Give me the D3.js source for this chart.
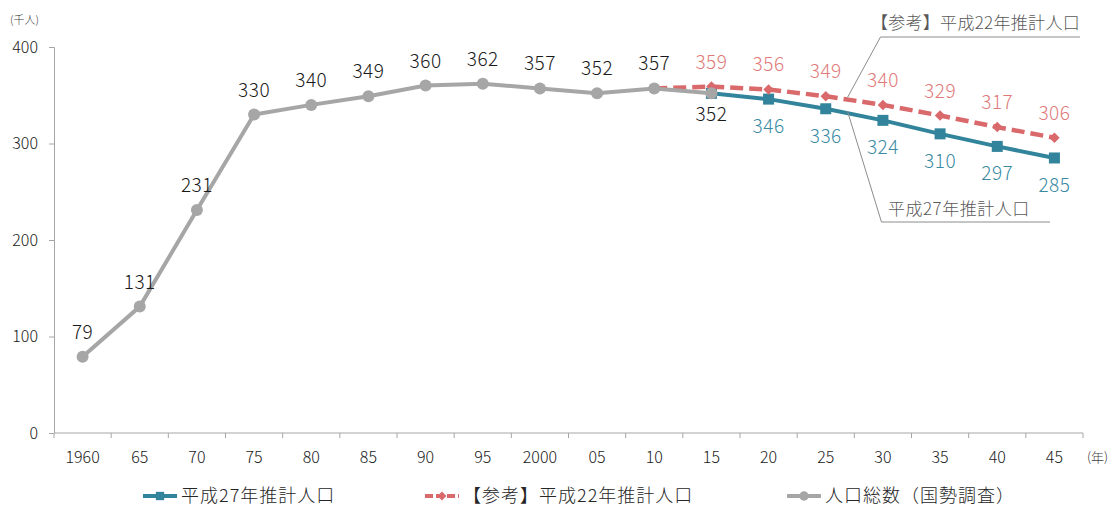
<!DOCTYPE html>
<html>
<head>
<meta charset="utf-8">
<script src="https://cdn.jsdelivr.net/npm/d3@7"></script>
<style>
  body { margin: 0; background: #fff; }
  svg text { font-family: "Noto Sans CJK JP", "Noto Sans", sans-serif; font-weight: 300; }
</style>
</head>
<body>
<div id="chart--wrap"></div>
<script>
// categories (x axis) and series values
const years = ['1960', '65', '70', '75', '80', '85', '90', '95', '2000', '05', '10', '15', '20', '25', '30', '35', '40', '45'];
const censusVals = [79, 131, 231, 330, 340, 349, 360, 362, 357, 352, 357, 352]; // 1960 - 2015
const h27Vals = [352, 346, 336, 324, 310, 297, 285];                              // 2015 - 2045
const h22Vals = [357, 359, 356, 349, 340, 329, 317, 306];                         // 2010 - 2045
const yTicks = [0, 100, 200, 300, 400];

const censusName = '人口総数（国勢調査）';
const h27Name = '平成27年推計人口';
const h22Name = '【参考】平成22年推計人口';

const colors = { census: '#a6a6a6', h27: '#31849b', h22: '#d9696b' };
const labelColors = { census: '#1a1a1a', h27: '#3a8ba3', h22: '#e07a7a' };

const W = 1112, H = 507;
const margin = { top: 47, right: 29, bottom: 74, left: 54 };
const width = W - margin.left - margin.right;
const height = H - margin.top - margin.bottom;

const svg = d3.select('#chart--wrap').append('svg')
  .attr('width', W)
  .attr('height', H);

const group = svg.append('g')
  .attr('transform', `translate(${margin.left}, ${margin.top})`);

// scales
const x = d3.scaleBand().domain(years).range([0, width]);
const y = d3.scaleLinear().domain([0, 400]).range([height, 0]);
const cx = i => x(years[i]) + x.bandwidth() / 2;

// series rows -> points
const toPoints = (vals, start) => vals.map((v, i) => ({ i: start + i, v: v }));
const census = toPoints(censusVals, 0);
const h22 = toPoints(h22Vals, years.indexOf('10'));
const h27 = toPoints(h27Vals, years.indexOf('15'));

// y axis
const yAxis = group.append('g')
  .call(d3.axisLeft(y).tickValues(yTicks).tickSize(5).tickPadding(11));
yAxis.select('.domain').attr('stroke', '#a6a6a6').attr('d', `M-5,0.5H0.5V${height}`);
yAxis.selectAll('.tick line').attr('stroke', '#a6a6a6');
yAxis.selectAll('.tick text')
  .attr('font-size', 16).attr('fill', '#1a1a1a')
  .style('font-family', '"Noto Sans CJK JP", sans-serif');

// x axis (ticks between categories)
const xAxis = group.append('g')
  .attr('transform', `translate(0, ${height})`);
xAxis.append('line')
  .attr('x1', 0).attr('x2', width)
  .attr('stroke', '#a6a6a6');
xAxis.selectAll('.tk')
  .data(d3.range(years.length + 1))
  .enter().append('line')
  .attr('x1', i => i * x.step()).attr('x2', i => i * x.step())
  .attr('y1', 0).attr('y2', 5)
  .attr('stroke', '#a6a6a6');
xAxis.selectAll('.lbl')
  .data(years)
  .enter().append('text')
  .attr('x', d => x(d) + x.bandwidth() / 2)
  .attr('y', 30)
  .attr('text-anchor', 'middle')
  .attr('font-size', 16)
  .attr('fill', '#1a1a1a')
  .text(d => d);

// units
svg.append('text')
  .attr('x', 10).attr('y', 24)
  .attr('font-size', 11).attr('fill', '#404040')
  .text('(千人)');
svg.append('text')
  .attr('x', 1087).attr('y', 462)
  .attr('font-size', 13).attr('fill', '#404040')
  .text('(年)');

const line = d3.line()
  .x(d => cx(d.i))
  .y(d => y(d.v));

// 平成27年推計人口
group.append('path')
  .attr('d', line(h27))
  .attr('fill', 'none')
  .attr('stroke', colors.h27)
  .attr('stroke-width', 4);
group.selectAll('.sq')
  .data(h27)
  .enter().append('rect')
  .attr('x', d => cx(d.i) - 5.5).attr('y', d => y(d.v) - 5.5)
  .attr('width', 11).attr('height', 11)
  .attr('fill', colors.h27);

// 平成22年推計人口
group.append('path')
  .attr('d', line(h22))
  .attr('fill', 'none')
  .attr('stroke', colors.h22)
  .attr('stroke-width', 4.5)
  .attr('stroke-dasharray', '13,6');
group.selectAll('.dm')
  .data(h22.slice(1))
  .enter().append('path')
  .attr('d', d3.symbol().type(d3.symbolDiamond2).size(70))
  .attr('transform', d => `translate(${cx(d.i)}, ${y(d.v)})`)
  .attr('fill', colors.h22);

// 人口総数
group.append('path')
  .attr('d', line(census))
  .attr('fill', 'none')
  .attr('stroke', colors.census)
  .attr('stroke-width', 4);
group.selectAll('.ci')
  .data(census)
  .enter().append('circle')
  .attr('cx', d => cx(d.i)).attr('cy', d => y(d.v))
  .attr('r', 6)
  .attr('fill', colors.census);

// data labels
const labels = (data, color, dy) => {
  group.selectAll(null)
    .data(data)
    .enter().append('text')
    .attr('x', d => cx(d.i))
    .attr('y', d => y(d.v) + dy)
    .attr('text-anchor', 'middle')
    .attr('font-size', 19)
    .attr('letter-spacing', 0.5)
    .attr('fill', color)
    .text(d => d.v);
};
labels(census.slice(0, -1), labelColors.census, -18);
labels(census.slice(-1), labelColors.census, 28);
labels(h22.slice(1), labelColors.h22, -18);
labels(h27.slice(1), labelColors.h27, 34);

// callouts
const at = (pts, i0, f) => {
  const a = pts.find(d => d.i === i0), b = pts.find(d => d.i === i0 + 1);
  return [cx(i0) + f * x.step(), y(a.v + f * (b.v - a.v))];
};
const i25 = years.indexOf('25');
const p22 = at(h22, i25, 0.38);
const p27 = at(h27, i25, 0.38);
group.append('path')
  .attr('d', `M${p22[0]},${p22[1] - 2}L${p22[0] + 33},${37 - margin.top}H${1080 - margin.left}`)
  .attr('fill', 'none').attr('stroke', '#8c8c8c');
group.append('path')
  .attr('d', `M${p27[0]},${p27[1] - 2}L${p27[0] + 34},${222 - margin.top}H${1050 - margin.left}`)
  .attr('fill', 'none').attr('stroke', '#8c8c8c');
svg.append('text')
  .attr('x', 1080).attr('y', 29)
  .attr('text-anchor', 'end')
  .attr('font-size', 17).attr('letter-spacing', 0.3).attr('fill', '#595959')
  .text(h22Name);
svg.append('text')
  .attr('x', 888).attr('y', 215)
  .attr('font-size', 17).attr('letter-spacing', 0.5).attr('fill', '#595959')
  .text(h27Name);

// legend
const legendItems = [
  { name: h27Name, color: colors.h27, x: 143, mark: 'square', dash: null },
  { name: h22Name, color: colors.h22, x: 425, mark: 'diamond', dash: '8,3' },
  { name: censusName, color: colors.census, x: 787, mark: 'circle', dash: null }
];
const legend = svg.append('g').attr('transform', 'translate(0, 496)');
const key = legend.selectAll('g')
  .data(legendItems)
  .enter().append('g')
  .attr('transform', d => `translate(${d.x}, 0)`);
key.append('line')
  .attr('x1', 0).attr('x2', 34)
  .attr('stroke', d => d.color)
  .attr('stroke-width', 4)
  .attr('stroke-dasharray', d => d.dash);
key.append('path')
  .attr('transform', 'translate(17, 0)')
  .attr('d', d => d3.symbol()
    .type(d.mark === 'square' ? d3.symbolSquare : d.mark === 'diamond' ? d3.symbolDiamond2 : d3.symbolCircle)
    .size(d.mark === 'diamond' ? 50 : 70)())
  .attr('fill', d => d.color);
key.append('text')
  .attr('x', 38).attr('y', 6)
  .attr('font-size', 18)
  .attr('letter-spacing', 1)
  .attr('fill', '#262626')
  .text(d => d.name);
</script>
</body>
</html>
